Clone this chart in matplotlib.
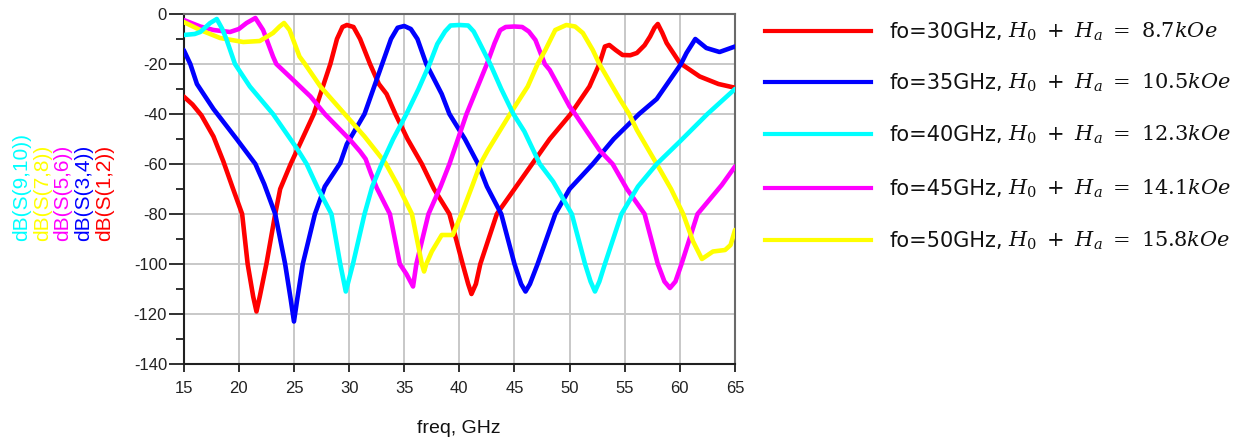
import matplotlib
matplotlib.use("Agg")
import matplotlib.pyplot as plt
from matplotlib.lines import Line2D

W, H = 1257, 447

# S-parameter traces (frequency in GHz, magnitude in dB)
freq_s12 = [15, 15.8, 16.6, 17.7, 18.6, 19.4, 20.3, 20.8, 21.3, 21.6, 21.9, 22.5, 23.3, 23.75, 24.7,
            26.8, 28.3, 28.9, 29.4, 29.8, 30.4, 31.0, 31.9, 32.7, 33.4, 34.2, 35.3, 36.6, 37.7, 39.1,
            40.3, 40.8, 41.1, 41.5, 41.9, 43.4, 45.0, 46.6, 48.2, 50.1, 51.8, 52.7, 53.2, 53.6,
            54.2, 54.8, 55.5, 56.1, 56.8, 57.3, 57.7, 58.0, 58.4, 58.8, 60.0, 61.8, 63.5, 65.0]
db_s12 = [-33, -36.2, -40.5, -49, -59, -69, -80, -100, -113, -119, -113, -100, -80, -70, -60,
          -40, -20, -10, -5.2, -4.4, -5.2, -10, -20, -28, -32, -40, -50, -60, -70, -80,
          -100, -108, -112, -108, -100, -80, -70, -60, -50, -40, -29, -20, -13, -12.4,
          -14.5, -16.4, -16.5, -15.6, -12.5, -9, -5.5, -4, -7.5, -11.6, -19.6, -25, -28, -29.5]

freq_s34 = [15, 15.6, 16.2, 17.7, 19.8, 21.5, 22.3, 23.3, 24.2, 24.7, 25.0, 25.3, 25.8, 26.9,
            27.8, 29.2, 29.8, 31.4, 33.0, 33.8, 34.4, 35.0, 35.6, 36.2, 37.0, 38.4, 39.1, 40.5,
            41.7, 42.5, 43.8, 45.0, 45.6, 46.0, 46.4, 47.1, 48.7, 50.0, 52.1, 54.0, 56.3, 57.9,
            59.0, 60.1, 60.6, 61.4, 62.4, 63.6, 65.0]
db_s34 = [-14.4, -20, -28, -38, -50, -60, -68, -80, -100, -114, -123, -114, -100, -80,
          -69, -59.6, -52, -40, -20, -10, -5.5, -4.8, -6, -10, -20, -32, -40, -50,
          -60, -69, -80, -100, -108, -111, -108, -100, -80, -70, -60, -50, -40, -34,
          -27, -20, -15.6, -10, -13.6, -15.2, -13]

freq_s56 = [15, 16.5, 17.7, 19.2, 20.0, 20.7, 21.5, 22.2, 23.1, 23.4, 24.6, 26.5, 27.8, 30.1,
            31.0, 31.5, 32.0, 32.5, 33.7, 34.6, 35.2, 35.8, 36.1, 37.2, 38.3, 39.1, 40.65, 42.5,
            43.2, 43.7, 44.2, 45.0, 45.7, 46.3, 46.9, 47.75, 48.2, 50.0, 50.5, 52.7, 53.9, 55.2,
            56.8, 58.0, 58.6, 59.1, 59.6, 60.15, 61.6, 63.8, 65.0]
db_s56 = [-2.4, -5, -6.4, -7.2, -6, -3.6, -1.6, -6.4, -17, -20, -25, -33, -40, -50.4,
          -55, -58, -64, -69.5, -80, -100, -104, -109, -100, -80, -69, -60, -40, -20,
          -11.6, -6.5, -5.2, -5, -5.2, -7, -10.4, -20, -22.4, -37, -40, -54.4, -60, -70,
          -80, -100, -107, -109.6, -107, -100, -80, -68.4, -61]

freq_s78 = [15, 16.5, 18.3, 20.4, 21.9, 23.1, 23.7, 24.1, 24.6, 25.5, 26.0, 27.4, 29.8, 31.4,
            33.3, 34.4, 35.7, 36.6, 36.8, 37.0, 37.5, 38.4, 39.4, 40.2, 41.2, 41.9, 42.6,
            44.6, 46.2, 47.1, 47.8, 48.7, 49.7, 50.5, 51.2, 52.1, 52.7, 54.6, 55.4, 56.1,
            57.9, 59.2, 60.3, 61.2, 62.0, 63.0, 64.1, 64.6, 65.0]
db_s78 = [-3.2, -6.4, -9.6, -11.2, -10.8, -7.6, -5, -3.6, -6.4, -17, -20, -29, -41, -49,
          -59.6, -68.4, -80, -100, -103, -100, -95, -88.4, -88.4, -80, -68.4, -60, -54.4,
          -40, -29, -20, -14.4, -6.4, -4.4, -5, -7.6, -14.4, -20, -34.4, -40, -46.4,
          -60, -70, -80, -91, -98, -95, -94.4, -92.4, -86.4]

freq_s910 = [15, 16.0, 16.5, 17.4, 18.0, 18.5, 18.9, 19.65, 21.0, 23.1, 25.3, 26.15, 27.2, 28.4,
             29.2, 29.7, 30.35, 31.4, 32.1, 32.95, 34.0, 35.2, 36.3, 37.3, 38.0, 38.7, 39.2,
             40.0, 40.8, 41.3, 41.7, 42.8, 43.8, 44.9, 45.9, 47.3, 48.5, 50.2, 51.4, 51.9,
             52.3, 52.7, 53.2, 54.7, 56.2, 57.9, 60.0, 62.5, 65.0]
db_s910 = [-8.4, -8, -7.2, -3.6, -2, -6, -10.4, -20, -29, -40, -54, -60, -70, -80,
           -100, -111, -100, -80, -69, -60, -50, -40, -30, -20, -12, -7, -4.6,
           -4.4, -4.6, -7, -10.4, -20, -30, -40, -47, -60, -67, -80, -100, -107,
           -111, -107, -100, -80, -69, -60, -51, -40, -30]

series_freq = [freq_s12, freq_s34, freq_s56, freq_s78, freq_s910]
series_db = [db_s12, db_s34, db_s56, db_s78, db_s910]
series_colors = ["#FF0000", "#0000FF", "#FF00FF", "#FFFF00", "#00FFFF"]
trace_names = ["dB(S(1,2))", "dB(S(3,4))", "dB(S(5,6))", "dB(S(7,8))", "dB(S(9,10))"]

legend_colors = ["#FF0000", "#0000FF", "#00FFFF", "#FF00FF", "#FFFF00"]
legend_prefix = ["fo=30GHz,", "fo=35GHz,", "fo=40GHz,", "fo=45GHz,", "fo=50GHz,"]
legend_field = [r"$H_0\ +\ H_a\ =\ 8.7kOe$", r"$H_0\ +\ H_a\ =\ 10.5kOe$",
                r"$H_0\ +\ H_a\ =\ 12.3kOe$", r"$H_0\ +\ H_a\ =\ 14.1kOe$",
                r"$H_0\ +\ H_a\ =\ 15.8kOe$"]

x_ticks = [15, 20, 25, 30, 35, 40, 45, 50, 55, 60, 65]
y_ticks = [0, -20, -40, -60, -80, -100, -120, -140]
y_minor = [-10, -30, -50, -70, -90, -110, -130]

plt.rcParams["font.family"] = ["Liberation Sans", "DejaVu Sans"]
plt.rcParams["mathtext.fontset"] = "dejavuserif"

fig = plt.figure(figsize=(W / 100, H / 100), dpi=100)
fig.patch.set_facecolor("white")


def fx(px):
    return px / W


def fy(py):
    return 1 - py / H


ax_l, ax_r, ax_t, ax_b = 183.7, 735.0, 14.0, 364.0
ax = fig.add_axes([fx(ax_l), fy(ax_b), (ax_r - ax_l) / W, (ax_b - ax_t) / H])

for f, d, c in zip(series_freq, series_db, series_colors):
    ax.plot(f, d, color=c, lw=3.3, solid_joinstyle="round", solid_capstyle="round",
            clip_on=True, zorder=3)

ax.set_xlim(15, 65)
ax.set_ylim(-140, 0)
ax.set_xticks(x_ticks)
ax.set_yticks(y_ticks)
ax.set_yticks(y_minor, minor=True)
ax.grid(True, which="major", color="#c8c8c8", lw=1.4, zorder=1)
ax.tick_params(axis="y", which="major", direction="out", length=11, width=1.3,
               color="#202020", labelsize=12, pad=1, labelcolor="#222222")
ax.tick_params(axis="y", which="minor", direction="out", length=5.5, width=1.3,
               color="#202020")
ax.tick_params(axis="x", which="major", direction="out", length=6, width=1.3,
               color="#202020", labelsize=12, pad=6, labelcolor="#222222")
ax.set_yticklabels([str(v) for v in y_ticks])
for side in ("left", "bottom"):
    ax.spines[side].set_color("#202020")
    ax.spines[side].set_linewidth(1.5)
for side in ("top", "right"):
    ax.spines[side].set_color("#6a6a6a")
    ax.spines[side].set_linewidth(1.5)

fig.text(fx(459), fy(433), "freq, GHz", ha="center", va="baseline", fontsize=14,
         color="#111111")

# stacked trace names along the left side
name_x = [105, 84, 63, 43, 22]
for x, name, c in zip(name_x, trace_names, series_colors):
    fig.text(fx(x), fy(241), name, rotation=90, ha="center", va="bottom",
             fontsize=15, color=c)

# legend entries
leg_y = [31, 82, 134, 188, 240]
for y, pre, fld, c in zip(leg_y, legend_prefix, legend_field, legend_colors):
    fig.add_artist(Line2D([fx(765), fx(871)], [fy(y), fy(y)], color=c, lw=3,
                          transform=fig.transFigure))
    fig.text(fx(889), fy(y + 7), pre, ha="left", va="baseline", fontsize=15,
             family=["DejaVu Sans"], color="#111111")
    fig.text(fx(1008), fy(y + 7), fld, ha="left", va="baseline", fontsize=15,
             color="#111111")

fig.savefig("out.png", dpi=100, facecolor="white")
